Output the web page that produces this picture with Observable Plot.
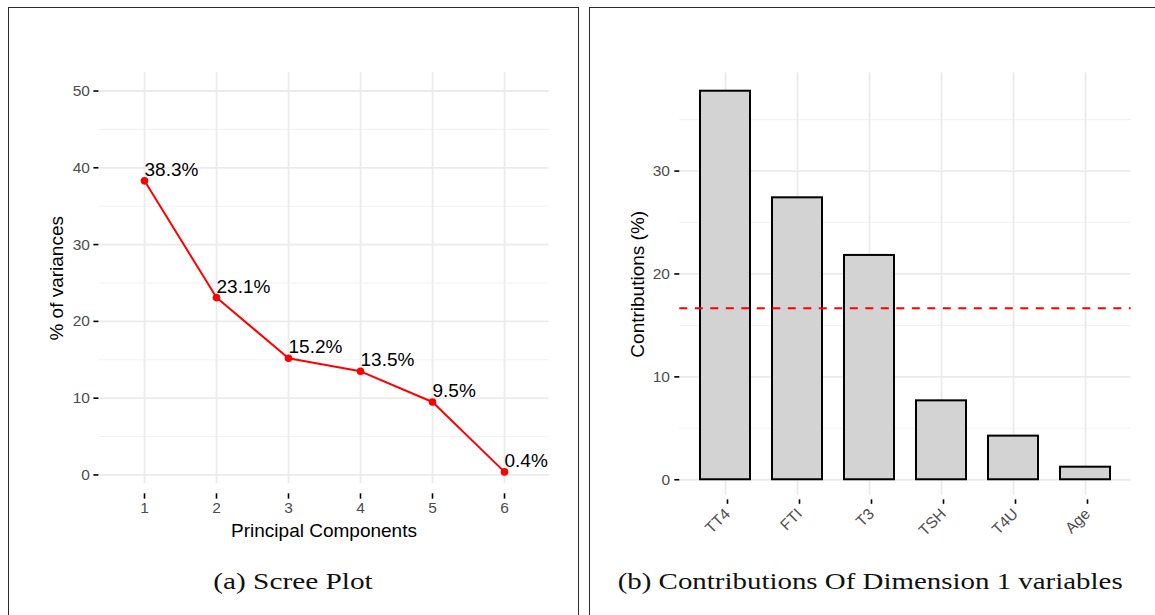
<!DOCTYPE html>
<html><head><meta charset="utf-8">
<script src="https://cdn.jsdelivr.net/npm/d3@7"></script>
<script src="https://cdn.jsdelivr.net/npm/@observablehq/plot@0.6"></script>
<style>
html,body{margin:0;padding:0;background:#fff;}
#page{position:relative;width:1155px;height:615px;overflow:hidden;background:#fff;font-family:"Liberation Sans",Arial,sans-serif;}
.panel{position:absolute;border:1.4px solid #2b2b2b;border-bottom:none;box-sizing:border-box;}
#left-panel{left:7.5px;top:7.2px;width:571.5px;height:640px;}
#right-panel{left:588.6px;top:7.2px;width:640px;height:640px;}
#left-chart{position:absolute;left:0;top:0;width:580px;height:615px;}
#right-chart{position:absolute;left:580px;top:0;width:575px;height:615px;}
#captions{position:absolute;left:0;top:0;}
</style></head><body>
<div id="page">
  <div class="panel" id="left-panel"></div>
  <div class="panel" id="right-panel"></div>
  <div id="left-chart"></div>
  <div id="right-chart"></div>
  <svg id="captions" width="1155" height="615"></svg>
</div>
<script>
// ---- data ----
const components = [1, 2, 3, 4, 5, 6];
const variances = [38.3, 23.1, 15.2, 13.5, 9.5, 0.4];
const varianceTicks = [0, 10, 20, 30, 40, 50];
const varianceMinor = [5, 15, 25, 35, 45];
const variables = ["TT4", "FTI", "T3", "TSH", "T4U", "Age"];
const contributions = [37.76, 27.4, 21.8, 7.67, 4.24, 1.22];
const contributionTicks = [0, 10, 20, 30];
const contributionMinor = [5, 15, 25, 35];
const expectedContribution = 16.67;
const captionA = "(a) Scree Plot";
const captionB = "(b) Contributions Of Dimension 1 variables";
const xTitleA = "Principal Components";
const yTitleA = "% of variances";
const yTitleB = "Contributions (%)";

const FONT = "'Liberation Sans', Arial, Helvetica, sans-serif";
const TICK_FS = 15.5, TITLE_FS = 19;
const MAJOR = "#ebebeb", MINOR = "#f2f2f2";

const scree = components.map((c, i) => ({pc: c, value: variances[i]}));
const contrib = variables.map((v, i) => ({name: v, value: contributions[i]}));

const left = Plot.plot({
  width: 580, height: 615,
  marginLeft: 98.4, marginRight: 31.4, marginTop: 72.3, marginBottom: 131.7,
  style: {background: "transparent", overflow: "visible", fontFamily: FONT},
  x: {type: "point", domain: components, padding: 0.6, axis: null},
  y: {domain: [-1.15, 52.37], axis: null},
  marks: [
    Plot.ruleY(varianceMinor, {stroke: MINOR, strokeWidth: 1.1}),
    Plot.ruleY(varianceTicks, {stroke: MAJOR, strokeWidth: 1.8}),
    Plot.ruleX(components, {stroke: MAJOR, strokeWidth: 1.8}),
    Plot.axisY({ticks: varianceTicks, tickSize: 5, tickPadding: 4, fontSize: TICK_FS, fill: "#4d4d4d", stroke: "black", strokeWidth: 1.6, label: null}),
    Plot.axisX({tickSize: 5.4, tickPadding: 3, dy: 10, fontSize: TICK_FS, fill: "#4d4d4d", stroke: "black", strokeWidth: 1.6, label: null}),
    Plot.line(scree, {x: "pc", y: "value", stroke: "red", strokeWidth: 2}),
    Plot.dot(scree, {x: "pc", y: "value", r: 3.8, fill: "red"}),
    Plot.text(scree, {x: "pc", y: "value", text: d => `${d.value.toFixed(1)}%`, textAnchor: "start", lineAnchor: "bottom", dy: -5, fontSize: TITLE_FS, fill: "black"}),
    Plot.text([xTitleA], {frameAnchor: "bottom", textAnchor: "middle", lineAnchor: "bottom", dy: 53.2, fontSize: TITLE_FS, fill: "black"}),
    Plot.text([yTitleA], {frameAnchor: "left", textAnchor: "middle", rotate: -90, lineAnchor: "bottom", dx: -36, fontSize: TITLE_FS, fill: "black"})
  ]
});
document.getElementById("left-chart").appendChild(left);

const right = Plot.plot({
  width: 575, height: 615,
  marginLeft: 99.3, marginRight: 24.3, marginTop: 72.5, marginBottom: 120,
  style: {background: "transparent", overflow: "visible", fontFamily: FONT},
  x: {type: "band", domain: variables, paddingInner: 0.3, paddingOuter: 0.25, axis: null},
  y: {domain: [-1.53, 39.53], axis: null},
  marks: [
    Plot.ruleY(contributionMinor, {stroke: MINOR, strokeWidth: 1.1}),
    Plot.ruleY(contributionTicks, {stroke: MAJOR, strokeWidth: 1.8}),
    Plot.ruleX(variables, {x: d => d, stroke: MAJOR, strokeWidth: 1.8}),
    Plot.barY(contrib, {x: "name", y: "value", fill: "#d3d3d3", stroke: "black", strokeWidth: 2}),
    Plot.ruleY([expectedContribution], {stroke: "red", strokeWidth: 2, strokeDasharray: "8,7.5"}),
    Plot.axisY({ticks: contributionTicks, tickSize: 5, tickPadding: 4.8, fontSize: TICK_FS, fill: "#4d4d4d", stroke: "black", strokeWidth: 1.6, label: null}),
    Plot.axisX({tickSize: 4.5, tickPadding: 7, dy: 4.3, dx: 2, tickRotate: -45, fontSize: TICK_FS, fill: "#4d4d4d", stroke: "black", strokeWidth: 1.6, label: null}),
    Plot.text([yTitleB], {frameAnchor: "left", textAnchor: "middle", rotate: -90, lineAnchor: "bottom", dx: -36.3, fontSize: TITLE_FS, fill: "black"})
  ]
});
document.getElementById("right-chart").appendChild(right);

// captions (real text, stretched to the reference width)
const cap = d3.select("#captions");
[[captionA, 213.3, 159.4], [captionB, 617.7, 505]].forEach(([t, x, w]) => {
  cap.append("text").attr("x", x).attr("y", 589.3)
    .attr("textLength", w).attr("lengthAdjust", "spacingAndGlyphs")
    .attr("font-family", "'Liberation Serif', 'Times New Roman', serif")
    .attr("font-size", 23).attr("fill", "#111").text(t);
});
</script>
</body></html>
